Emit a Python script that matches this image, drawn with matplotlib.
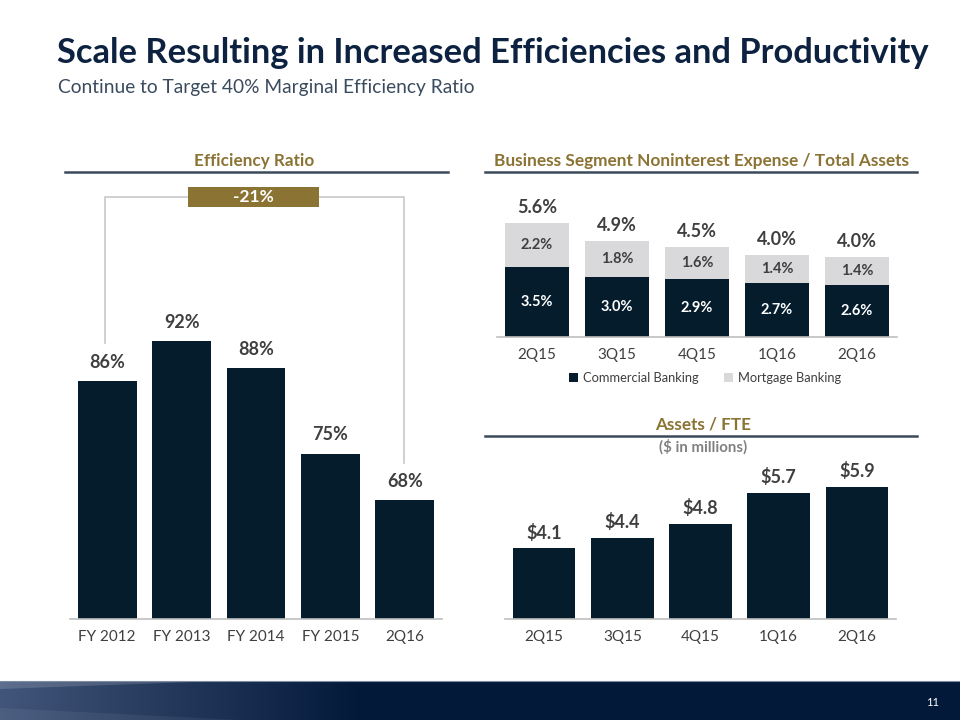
import matplotlib
matplotlib.use("Agg")
import matplotlib.pyplot as plt
import numpy as np
from matplotlib.patches import Rectangle, Polygon
from matplotlib.colors import to_rgb

# ---------------- data ----------------
eff_labels = ["FY 2012", "FY 2013", "FY 2014", "FY 2015", "2Q16"]
eff_values = [86, 92, 88, 75, 68]
eff_change = "-21%"

seg_labels = ["2Q15", "3Q15", "4Q15", "1Q16", "2Q16"]
seg_commercial = [3.5, 3.0, 2.9, 2.7, 2.6]
seg_mortgage = [2.2, 1.8, 1.6, 1.4, 1.4]
seg_total = [5.6, 4.9, 4.5, 4.0, 4.0]
seg_series = ["Commercial Banking", "Mortgage Banking"]

fte_labels = ["2Q15", "3Q15", "4Q15", "1Q16", "2Q16"]
fte_values = [4.1, 4.4, 4.8, 5.7, 5.9]

# ---------------- style ----------------
FONT = "Lato"
plt.rcParams["font.family"] = [FONT, "DejaVu Sans"]
NAVY = "#041c2c"
LIGHT = "#d9d9db"
GOLD = "#8b7334"
TXT = "#3f3f3f"
TITLE = "#0d2240"
RULE = "#3b4a5a"

W, H = 960, 720
fig = plt.figure(figsize=(9.6, 7.2), dpi=100)


def ax_px(x0, y0, x1, y1):
    return fig.add_axes([x0 / W, 1 - y1 / H, (x1 - x0) / W, (y1 - y0) / H])


def style_axis(ax):
    for s in ["top", "right", "left"]:
        ax.spines[s].set_visible(False)
    ax.spines["bottom"].set_color("#bfbfbf")
    ax.spines["bottom"].set_linewidth(1.2)
    ax.set_yticks([])
    ax.tick_params(axis="x", length=0, pad=8, labelsize=11, labelcolor=TXT)
    ax.set_facecolor("none")


# ---------------- left: efficiency ratio ----------------
ax1 = ax_px(70, 190, 442, 619)
x1 = np.arange(len(eff_labels))
ax1.bar(x1, eff_values, width=0.79, color=NAVY, bottom=0)
ax1.set_xlim(-0.5, len(eff_labels) - 0.5)
ax1.set_ylim(50, 50 + 429 / 6.61)
ax1.set_xticks(x1)
ax1.set_xticklabels(eff_labels)
style_axis(ax1)
for xi, v in zip(x1, eff_values):
    ax1.annotate(f"{v}%", (xi, v), xytext=(0, 13.5), textcoords="offset points",
                 ha="center", va="center", fontsize=13, fontweight="bold", color=TXT)

# ---------------- right top: stacked ----------------
ax2 = ax_px(497, 190, 897, 337)
x2 = np.arange(len(seg_labels))
ax2.bar(x2, seg_commercial, width=0.79, color=NAVY, label=seg_series[0])
ax2.bar(x2, seg_mortgage, width=0.79, bottom=seg_commercial, color=LIGHT, label=seg_series[1])
ax2.set_xlim(-0.5, len(seg_labels) - 0.5)
ax2.set_ylim(0, 147 / 20)
ax2.set_xticks(x2)
ax2.set_xticklabels(seg_labels)
style_axis(ax2)
for xi, c, m, t in zip(x2, seg_commercial, seg_mortgage, seg_total):
    ax2.text(xi, c / 2, f"{c:.1f}%", ha="center", va="center", fontsize=10.5,
             fontweight="bold", color="white")
    ax2.text(xi, c + m / 2, f"{m:.1f}%", ha="center", va="center", fontsize=10.5,
             fontweight="bold", color=TXT)
    ax2.annotate(f"{t:.1f}%", (xi, c + m), xytext=(0, 11), textcoords="offset points",
                 ha="center", va="center", fontsize=13, fontweight="bold", color=TXT)
fig.legend(loc="center", bbox_to_anchor=(705 / W, 1 - 378 / H), ncol=2, frameon=False,
           fontsize=9.3, handlelength=0.7, handleheight=0.7, handletextpad=0.35,
           columnspacing=2.0, labelcolor=TXT)

# ---------------- right bottom: assets / FTE ----------------
ax3 = ax_px(505, 455, 896, 619)
x3 = np.arange(len(fte_labels))
ax3.bar(x3, fte_values, width=0.8, color=NAVY)
ax3.set_xlim(-0.5, len(fte_labels) - 0.5)
ax3.set_ylim(2.05, 2.05 + 164 / 34.4)
ax3.set_xticks(x3)
ax3.set_xticklabels(fte_labels)
style_axis(ax3)
for xi, v in zip(x3, fte_values):
    ax3.annotate(f"${v:.1f}", (xi, v), xytext=(0, 11.5), textcoords="offset points",
                 ha="center", va="center", fontsize=13, fontweight="bold", color=TXT)

# ---------------- overlay: titles, headers, bracket, footer ----------------
ov = fig.add_axes([0, 0, 1, 1])
ov.set_xlim(0, W)
ov.set_ylim(H, 0)
ov.axis("off")
ov.patch.set_visible(False)

ov.text(57, 53, "Scale Resulting in Increased Efficiencies and Productivity",
        fontsize=24.8, fontweight="bold", color=TITLE, ha="left", va="center")
ov.text(58, 87, "Continue to Target 40% Marginal Efficiency Ratio",
        fontsize=13.8, color="#3b4b5e", ha="left", va="center")

# section headers
ov.text(254, 161, "Efficiency Ratio", fontsize=12.3, fontweight="bold", color=GOLD,
        ha="center", va="center")
ov.plot([65, 448], [172, 172], color=RULE, lw=1.8)
ov.text(701, 161, "Business Segment Noninterest Expense / Total Assets", fontsize=12.4,
        fontweight="bold", color=GOLD, ha="center", va="center")
ov.plot([485, 917], [172, 172], color=RULE, lw=1.8)
ov.text(703, 425, "Assets / FTE", fontsize=12.3, fontweight="bold", color=GOLD,
        ha="center", va="center")
ov.plot([485, 917], [436, 436], color=RULE, lw=1.8)
ov.text(703, 447, "($ in millions)", fontsize=10.8, fontweight="bold", color="#808080",
        ha="center", va="center")

# bracket
ov.plot([105, 105, 404, 404], [343, 197, 197, 463], color="#c8c8c8", lw=1.2)
ov.add_patch(Rectangle((188, 187), 131, 20, facecolor=GOLD, edgecolor="none", zorder=3))
ov.text(253.5, 197.5, eff_change, fontsize=12.5, fontweight="bold", color="white",
        ha="center", va="center", zorder=4)

# footer band with gradient
c0 = np.array(to_rgb("#42557a"))
c1 = np.array(to_rgb("#03193a"))
xs = np.linspace(0, 1, 960)
t = np.clip(xs * 960 / 360, 0, 1)[None, :, None]
grad = c0 * (1 - t) + c1 * t
grad = np.repeat(grad, 2, axis=0)
ov.imshow(grad, extent=[0, 960, 720, 681], aspect="auto", zorder=1)
ov.add_patch(Polygon([[0, 681], [220, 681], [0, 689]], closed=True,
                     facecolor="white", alpha=0.15, edgecolor="none", zorder=2))
ov.add_patch(Polygon([[0, 708], [240, 720], [0, 720]], closed=True,
                     facecolor="white", alpha=0.06, edgecolor="none", zorder=2))
ov.plot([0, 960], [681, 681], color="#7f8da3", lw=0.8, zorder=2)
ov.text(933, 702, "11", fontsize=8, color="white", ha="center", va="center", zorder=3)
ov.set_xlim(0, W)
ov.set_ylim(H, 0)

fig.savefig("out.png", dpi=100)
